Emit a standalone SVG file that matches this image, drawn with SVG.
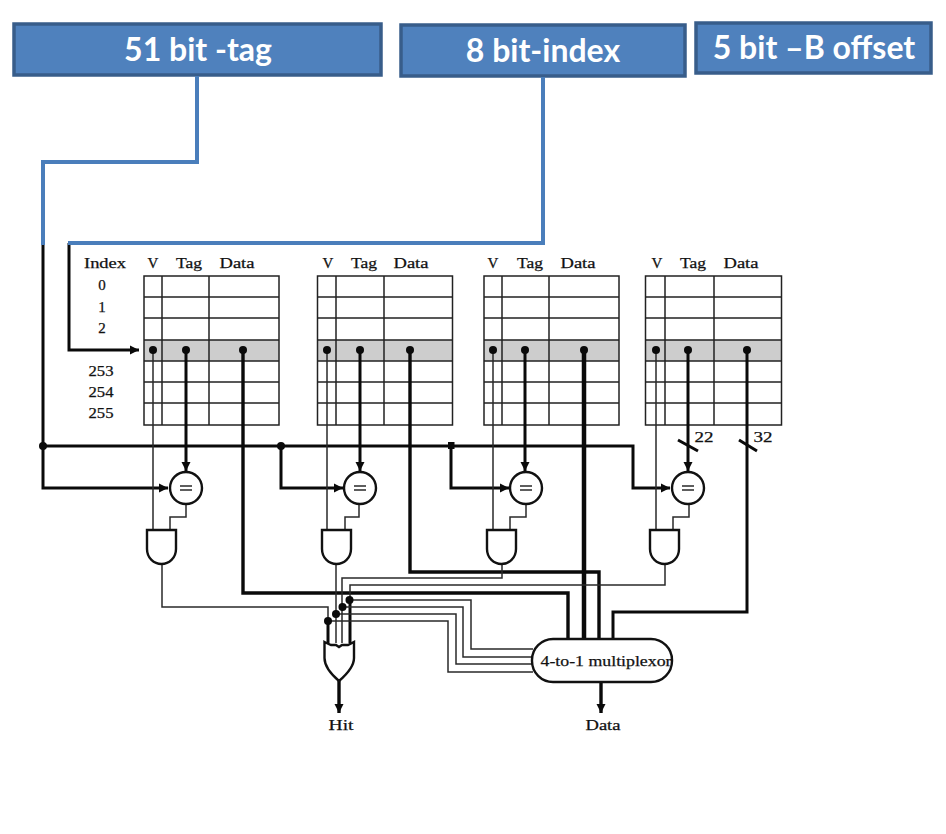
<svg xmlns="http://www.w3.org/2000/svg" width="946" height="834" viewBox="0 0 946 834">
<style>
.box{fill:#4f81bd;stroke:#385d8a;stroke-width:3.5}
.bt{font-family:"Lato","Open Sans",sans-serif;font-weight:700;fill:#fff;text-anchor:middle}
.t{font-family:"Liberation Serif","DejaVu Serif",serif;font-size:15px;fill:#111;stroke:#111;stroke-width:.25;text-anchor:middle}
.blue{fill:none;stroke:#4a7ebb;stroke-width:4}
.w1{fill:none;stroke:#2a2a2a;stroke-width:1.5}
.w2{fill:none;stroke:#0a0a0a;stroke-width:3}
.w3{fill:none;stroke:#0a0a0a;stroke-width:3.4}
.grid{fill:none;stroke:#222;stroke-width:1.5}
.gray{fill:#cdcdcd}
.gate{fill:#fff;stroke:#111;stroke-width:2.4}
.d{fill:#0a0a0a}
</style>
<defs>
<marker id="a" markerUnits="userSpaceOnUse" markerWidth="12" markerHeight="12" refX="9" refY="6" orient="auto"><path d="M0 1.500L9 6L0 10.500Z" fill="#0a0a0a"/></marker>
<g id="tbl">
<rect class="gray" x="0" y="64" width="135" height="21"/>
<rect class="grid" x="0" y="0" width="135" height="149"/>
<path class="grid" d="M0 21H135M0 42H135M0 64H135M0 85H135M0 106H135M0 127H135"/>
</g>
</defs>
<g id="field-tag"><rect class="box" x="14" y="24" width="367" height="51"/><text class="bt" x="198" y="61" font-size="32">51 bit -tag</text></g>
<g id="field-index"><rect class="box" x="401" y="25" width="284" height="51"/><text class="bt" x="543" y="62" font-size="32">8 bit-index</text></g>
<g id="field-offset"><rect class="box" x="696" y="23" width="235" height="50"/><text class="bt" x="814" y="59" font-size="32">5 bit –B offset</text></g>

<g id="index-labels">
<text class="t" x="105" y="268" textLength="42" lengthAdjust="spacingAndGlyphs">Index</text>
<text class="t" x="102" y="290">0</text><text class="t" x="102" y="312">1</text><text class="t" x="102" y="333">2</text>
<text class="t" x="101" y="376" textLength="25" lengthAdjust="spacingAndGlyphs">253</text><text class="t" x="101" y="397" textLength="25" lengthAdjust="spacingAndGlyphs">254</text><text class="t" x="101" y="418" textLength="25" lengthAdjust="spacingAndGlyphs">255</text>
</g>
<g id="way-1"><use href="#tbl" x="144" y="276"/><path class="grid" d="M162 276V425M209 276V425"/>
<text class="t" x="153" y="268">V</text><text class="t" x="189" y="268" textLength="26" lengthAdjust="spacingAndGlyphs">Tag</text><text class="t" x="237" y="268" textLength="35" lengthAdjust="spacingAndGlyphs">Data</text></g>
<g id="way-2"><use href="#tbl" x="317.500" y="276"/><path class="grid" d="M336 276V425M384 276V425"/>
<text class="t" x="328" y="268">V</text><text class="t" x="364" y="268" textLength="26" lengthAdjust="spacingAndGlyphs">Tag</text><text class="t" x="411" y="268" textLength="35" lengthAdjust="spacingAndGlyphs">Data</text></g>
<g id="way-3"><use href="#tbl" x="484" y="276"/><path class="grid" d="M502 276V425M549 276V425"/>
<text class="t" x="493" y="268">V</text><text class="t" x="530" y="268" textLength="26" lengthAdjust="spacingAndGlyphs">Tag</text><text class="t" x="578" y="268" textLength="35" lengthAdjust="spacingAndGlyphs">Data</text></g>
<g id="way-4"><rect class="gray" x="645.500" y="340" width="136" height="21"/><rect class="grid" x="645.500" y="276" width="136" height="149"/><path class="grid" d="M645 297H782M645 318H782M645 340H782M645 361H782M645 382H782M645 403H782M665 276V425M714 276V425"/>
<text class="t" x="657" y="268">V</text><text class="t" x="693" y="268" textLength="26" lengthAdjust="spacingAndGlyphs">Tag</text><text class="t" x="741" y="268" textLength="35" lengthAdjust="spacingAndGlyphs">Data</text></g>

<g id="connectors">
<path class="w2" d="M43 245V488H168" marker-end="url(#a)"/>
<path class="w2" d="M69 243V350H139" marker-end="url(#a)"/>
<path class="blue" d="M197 76V162H43V245"/>
<path class="blue" d="M543 77V243H68"/>
<path class="w2" d="M43 446H633V488H670" marker-end="url(#a)"/>
<path class="w2" d="M281 446V488H343" marker-end="url(#a)"/>
<path class="w2" d="M451 446V488H509" marker-end="url(#a)"/>
<path class="w2" d="M186 350V471" marker-end="url(#a)"/>
<path class="w2" d="M360 350V471" marker-end="url(#a)"/>
<path class="w2" d="M525 350V471" marker-end="url(#a)"/>
<path class="w2" d="M688 350V471" marker-end="url(#a)"/>
<path class="w1" d="M153 350V530M327 350V530M493 350V530M656 350V530"/>
<path class="w1" d="M186 505V517H170V530M359 505V517H345V530M526 505V517H510V530M689 505V517H673V530"/>
<path class="w3" d="M243 350V593H568V640"/>
<path class="w3" d="M410 350V572H599V640"/>
<path class="w3" d="M584 350V640" style="stroke-width:4.500"/>
<path class="w2" d="M747 350V612H613V640"/>
<path class="w1" d="M162 564V607H328V643"/>
<path class="w1" d="M336 564V643"/>
<path class="w1" d="M502 564V578H342V643"/>
<path class="w1" d="M665 564V585H350V643"/>
<path class="w2" d="M350 600V643"/>
<path class="w1" d="M350 600H471V649H533"/>
<path class="w1" d="M342 607H463V657H533"/>
<path class="w1" d="M336 614H456V664H533"/>
<path class="w1" d="M328 621H448V672H533"/>
<path class="w2" d="M328 621V643"/>
<path class="w3" d="M339 680V713" marker-end="url(#a)"/>
<path class="w3" d="M601 682V713" marker-end="url(#a)"/>
<path class="w2" d="M678 440L698 451M739 440L757 451"/>
<g class="d">
<circle cx="153" cy="350" r="4"/><circle cx="186" cy="350" r="4"/><circle cx="243" cy="350" r="4"/>
<circle cx="327" cy="350" r="4"/><circle cx="360" cy="350" r="4"/><circle cx="410" cy="350" r="4"/>
<circle cx="493" cy="350" r="4"/><circle cx="525" cy="350" r="4"/><circle cx="584" cy="350" r="4"/>
<circle cx="656" cy="350" r="4"/><circle cx="688" cy="350" r="4"/><circle cx="747" cy="350" r="4"/>
<circle cx="43" cy="446" r="4"/><circle cx="281" cy="446" r="4"/><rect x="448" y="442" width="6.500" height="7"/>
<circle cx="328" cy="621" r="4"/><circle cx="336" cy="614" r="4"/><circle cx="342.500" cy="607" r="4"/><circle cx="349.500" cy="600" r="4"/>
</g>
</g>

<g id="cmp-1"><circle class="gate" cx="186" cy="488" r="16"/><path class="w1" d="M180 486H192M180 490H192"/></g>
<g id="cmp-2"><circle class="gate" cx="360" cy="488" r="16"/><path class="w1" d="M354 486H366M354 490H366"/></g>
<g id="cmp-3"><circle class="gate" cx="526" cy="488" r="16"/><path class="w1" d="M520 486H532M520 490H532"/></g>
<g id="cmp-4"><circle class="gate" cx="688" cy="488" r="16"/><path class="w1" d="M682 486H694M682 490H694"/></g>
<g id="and-1"><path class="gate" d="M147 530H176V549C176 558 169 564 161.500 564C154 564 147 558 147 549Z"/></g>
<g id="and-2"><path class="gate" d="M322 530H351V549C351 558 344 564 336.500 564C329 564 322 558 322 549Z"/></g>
<g id="and-3"><path class="gate" d="M487 530H516V549C516 558 509 564 501.500 564C494 564 487 558 487 549Z"/></g>
<g id="and-4"><path class="gate" d="M650 530H679V549C679 558 672 564 664.500 564C657 564 650 558 650 549Z"/></g>
<g id="or-gate"><path class="gate" style="fill:none" d="M324.500 642L331 645H336L339 647L342 645H348L354 642V658C354 667 346 675 339 681C332 675 324.500 667 324.500 658Z"/></g>
<g id="mux"><rect class="gate" x="532" y="639" width="140" height="43" rx="21" ry="21"/><text class="t" x="606" y="666" textLength="131" lengthAdjust="spacingAndGlyphs">4-to-1 multiplexor</text></g>
<g id="labels">
<text class="t" x="341" y="730" textLength="25" lengthAdjust="spacingAndGlyphs">Hit</text>
<text class="t" x="603" y="730" textLength="35" lengthAdjust="spacingAndGlyphs">Data</text>
<text class="t" x="704" y="442" textLength="19" lengthAdjust="spacingAndGlyphs">22</text>
<text class="t" x="763" y="442" textLength="19" lengthAdjust="spacingAndGlyphs">32</text>
</g>
</svg>
